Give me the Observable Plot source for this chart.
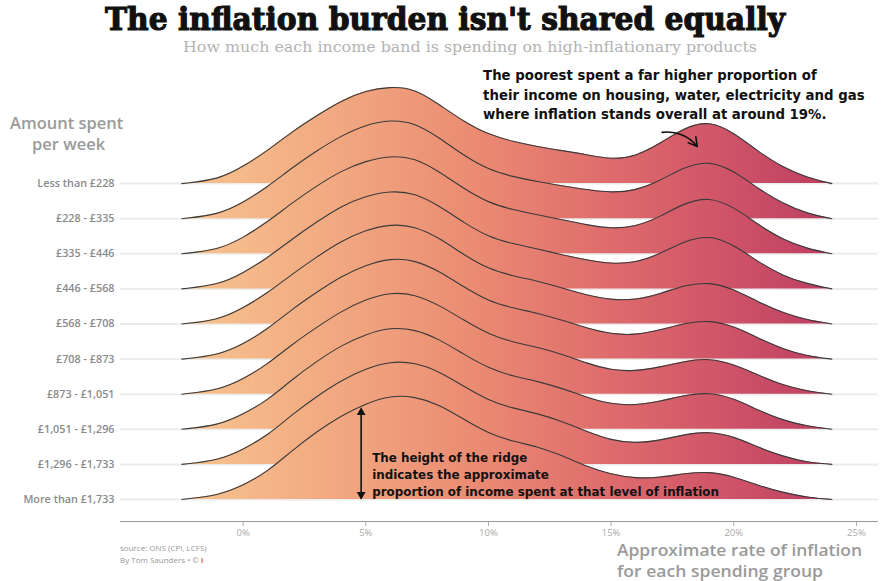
<!DOCTYPE html>
<html>
<head>
<meta charset="utf-8">
<script src="https://cdn.jsdelivr.net/npm/d3@7"></script>
<script src="https://cdn.jsdelivr.net/npm/@observablehq/plot@0.6"></script>
<style>
  body { margin: 0; background: #fff; }
  #wrap { position: relative; width: 894px; height: 581px; overflow: hidden; font-family: "Open Sans", sans-serif; }
  #chart { position: absolute; left: 0; top: 0; }
  .abs { position: absolute; white-space: nowrap; transform-origin: left top; }
  #title { left: 105px; top: 2px; font-family: "DejaVu Serif", serif; font-weight: 900; font-size: 32px; line-height: 34px; color: #111; -webkit-text-stroke: 1.2px #111; }
  #subtitle { left: 183px; top: 39px; font-family: "DejaVu Serif", serif; font-size: 15px; line-height: 16px; color: #b3b3b3; }
  .ytitle { font-size: 16.5px; line-height: 17px; font-weight: 600; color: #9a9a9a; }
  .xtitle { font-size: 17px; line-height: 17px; font-weight: 600; color: #9a9a9a; }
  .src { font-size: 8px; line-height: 10px; color: #999; left: 120px; }
</style>
</head>
<body>
<div id="wrap">
  <div id="chart"></div>
  <div id="title" class="abs">The inflation burden isn't shared equally</div>
  <div id="subtitle" class="abs">How much each income band is spending on high-inflationary products</div>
  <div id="yt1" class="abs ytitle" style="left:10px;top:114px;">Amount spent</div>
  <div id="yt2" class="abs ytitle" style="left:32px;top:135px;">per week</div>
  <div id="xt1" class="abs xtitle" style="left:617px;top:541px;">Approximate rate of inflation</div>
  <div id="xt2" class="abs xtitle" style="left:617px;top:562px;">for each spending group</div>
  <div class="abs src" style="top:543px;">source: ONS (CPI, LCFS)</div>
  <div class="abs src" style="top:555px;">By Tom Saunders • © <span style="color:#e8423f;font-weight:bold">ǀ</span></div>
</div>
<script>
// Income bands (top to bottom)
const labels = ["Less than £228", "£228 - £335", "£335 - £446", "£446 - £568", "£568 - £708",
  "£708 - £873", "£873 - £1,051", "£1,051 - £1,296", "£1,296 - £1,733", "More than £1,733"];

// Inflation rate grid (%)
const rates = [-2.5, -1, 0, 1, 2, 3, 4, 5, 6, 7, 8, 9, 10, 11, 12, 13, 14, 15, 16, 17, 18, 19, 20, 21, 22, 23, 24];

// Relative share of income spent at each inflation level (ridge heights), per band
const band1  = [0, 4, 17, 33, 52, 68, 83, 93, 97, 95, 79, 62, 49, 42, 37, 33, 29, 24, 27, 40, 56, 63, 51, 32, 16, 6, 0];
const band2  = [0, 4, 16, 32, 51, 68, 83, 94, 99, 96, 81, 63, 49, 42, 37, 33, 29, 26, 28, 38, 52, 58, 48, 30, 15, 5, 0];
const band3  = [0, 4, 16, 32, 51, 68, 83, 93, 98, 96, 82, 65, 51, 44, 39, 34, 29, 25, 27, 37, 51, 57, 47, 29, 14, 5, 0];
const band4  = [0, 4, 16, 31, 50, 67, 83, 93, 98, 96, 83, 66, 52, 45, 40, 34, 29, 25, 26, 35, 48, 54, 44, 27, 13, 5, 0];
const band5  = [0, 4, 16, 31, 50, 67, 83, 94, 100, 98, 86, 69, 55, 48, 43, 36, 29, 24, 24, 30, 39, 42, 35, 22, 11, 4, 0];
const band6  = [0, 4, 15, 30, 50, 67, 83, 94, 101, 99, 88, 72, 58, 51, 46, 39, 31, 25, 24, 29, 36, 39, 33, 21, 10, 3, 0];
const band7  = [0, 4, 15, 30, 50, 67, 83, 95, 102, 100, 89, 74, 60, 52, 47, 40, 31, 24, 23, 27, 33, 36, 30, 19, 9, 3, 0];
const band8  = [0, 4, 15, 29, 50, 68, 84, 95, 102, 100, 90, 75, 61, 53, 48, 41, 32, 25, 24, 28, 34, 37, 31, 19, 9, 3, 0];
const band9  = [0, 4, 15, 29, 50, 68, 84, 96, 103, 102, 93, 78, 64, 56, 51, 43, 33, 24, 21, 24, 30, 33, 28, 17, 8, 2, 0];
const band10 = [0, 4, 14, 28, 49, 68, 84, 96, 104, 103, 95, 80, 66, 58, 53, 44, 33, 25, 21, 22, 26, 28, 23, 14, 7, 2, 0];
const bands = [band1, band2, band3, band4, band5, band6, band7, band8, band9, band10];

// Axis ticks (%)
const xTicks = [0, 5, 10, 15, 20, 25];

// Annotation texts
const noteTop = "The poorest spent a far higher proportion of\ntheir income on housing, water, electricity and gas\nwhere inflation stands overall at around 19%.";
const noteBottom = "The height of the ridge\nindicates the approximate\nproportion of income spent at that level of inflation";

const unitsPerRow = 35.1;  // ridge-height units per row spacing (overlap)
const nRows = labels.length;
const baselines = labels.map((_, i) => nRows - 1 - i);
const yMin = -0.627, yMax = 12.507;

const marks = [
  Plot.ruleY(baselines, {stroke: "#ececec", strokeWidth: 2})
];
bands.forEach((b, i) => {
  const base = nRows - 1 - i;
  const d = rates.map((r, j) => ({x: r, y1: base, y2: base + b[j] / unitsPerRow}));
  marks.push(Plot.areaY(d, {x: "x", y1: "y1", y2: "y2", fill: "url(#ridgeGrad)", curve: "basis"}));
  marks.push(Plot.lineY(d, {x: "x", y: "y2", stroke: "#3a3a3a", strokeWidth: 1.1, curve: "basis"}));
});

marks.push(
  Plot.ruleY([yMin], {stroke: "#9a9a9a", strokeWidth: 1}),
  Plot.axisX(xTicks, {tickFormat: d => d + "%", tickSize: 5, tickPadding: 3, fontSize: 9.5, color: "#aaa", label: null}),
  Plot.axisY(baselines, {tickFormat: v => labels[nRows - 1 - v], tickSize: 0, tickPadding: 6, fontSize: 10.8, fill: "#8a8a8a", fontWeight: 600, label: null}),
  // annotation: top
  Plot.text([noteTop], {x: 9.78, y: 11.57, text: d => d, textAnchor: "start", lineAnchor: "middle", lineHeight: 1.46, fontSize: 13.3, fontFamily: "DejaVu Sans, sans-serif", fontWeight: "bold", fill: "#111"}),
  Plot.arrow([0], {x1: 17.08, y1: 10.46, x2: 18.51, y2: 10.06, bend: 30, headLength: 9, stroke: "#111", strokeWidth: 1.6}),
  // annotation: bottom
  Plot.link([0], {x1: 4.81, y1: 0.14, x2: 4.81, y2: 2.48, stroke: "#111", strokeWidth: 1.6}),
  Plot.dot([2.48, 0.14], {x: 4.81, y: d => d, symbol: "triangle2", r: 4.2, rotate: (d, i) => i === 0 ? 0 : 180, fill: "#111"}),
  Plot.text([noteBottom], {x: 5.26, y: 0.74, text: d => d, textAnchor: "start", lineAnchor: "middle", lineHeight: 1.45, fontSize: 11.9, fontFamily: "DejaVu Sans, sans-serif", fontWeight: "bold", fill: "#111"})
);

const svg = Plot.plot({
  width: 894,
  height: 581,
  marginLeft: 120,
  marginRight: 16,
  marginTop: 60,
  marginBottom: 60,
  style: {fontFamily: "Open Sans, sans-serif", background: "transparent"},
  x: {domain: [-5, 25.9]},
  y: {domain: [yMin, yMax]},
  marks
});

// horizontal gradient shared by all ridges
const xs = svg.scale("x");
const defs = d3.select(svg).insert("defs", ":first-child");
const grad = defs.append("linearGradient")
  .attr("id", "ridgeGrad")
  .attr("gradientUnits", "userSpaceOnUse")
  .attr("x1", xs.apply(-2.5)).attr("x2", xs.apply(24.5))
  .attr("y1", 0).attr("y2", 0);
[[0, "#f7c490"], [0.25, "#f1a67f"], [0.45, "#ea8a72"], [0.65, "#de6b6c"], [0.85, "#cc5067"], [1, "#b93b5f"]]
  .forEach(([o, c]) => grad.append("stop").attr("offset", o).attr("stop-color", c));

document.getElementById("chart").appendChild(svg);

// fit text widths to the reference layout
function fit(id, w) {
  const el = document.getElementById(id);
  const cw = el.getBoundingClientRect().width;
  if (cw > 0) el.style.transform = `scaleX(${w / cw})`;
}
fit("title", 680);
fit("subtitle", 574);
fit("xt1", 245);
fit("xt2", 206);
</script>
</body>
</html>
